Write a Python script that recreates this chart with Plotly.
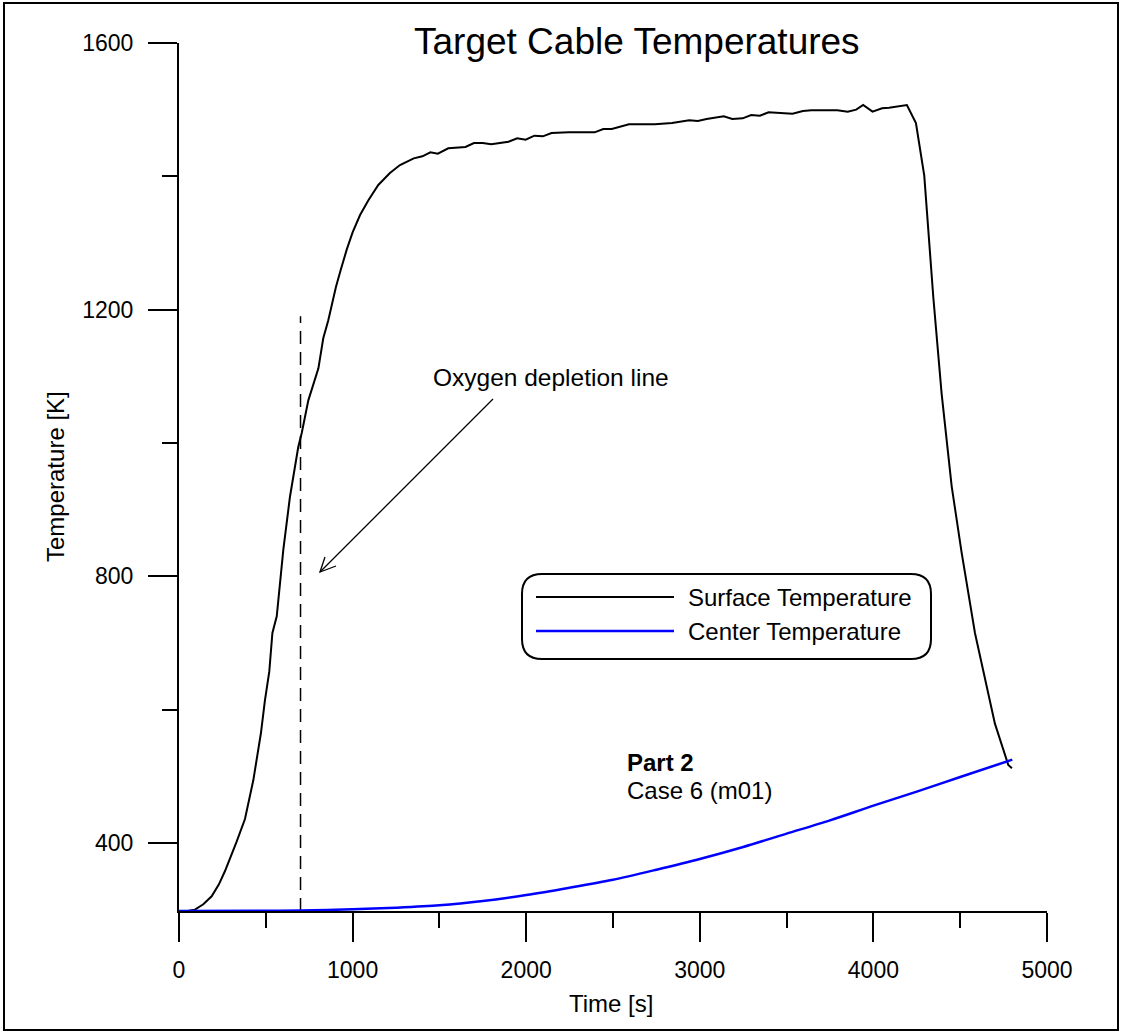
import plotly.graph_objects as go

# ---------------- data ----------------
surface_time = [0, 50, 92, 140, 188, 230, 265, 300, 332, 380, 428, 472, 495, 520, 538, 563,
                601, 639, 687, 707, 726, 745, 803, 831, 860, 904, 931, 966, 1000, 1043, 1091,
                1148, 1215, 1273, 1352, 1402, 1448, 1491, 1551, 1650, 1699, 1749, 1799, 1898,
                1948, 1997, 2047, 2096, 2146, 2245, 2394, 2444, 2493, 2543, 2592, 2741, 2840,
                2939, 2989, 3039, 3138, 3187, 3247, 3296, 3346, 3396, 3534, 3594, 3643, 3792,
                3852, 3901, 3941, 3995, 4050, 4090, 4193, 4245, 4293, 4345, 4393, 4451, 4508,
                4585, 4623, 4700, 4777, 4798]
surface_temp = [298, 298, 300, 308, 320, 338, 358, 380, 402, 436, 494, 565, 614, 657, 715, 740,
                840, 919, 994, 1015, 1040, 1064, 1112, 1157, 1184, 1234, 1259, 1290, 1316, 1342, 1364,
                1387, 1405, 1417, 1427, 1430, 1436, 1434, 1442, 1444, 1450, 1450, 1448, 1452,
                1457, 1455, 1461, 1460, 1465, 1466, 1466, 1471, 1471, 1474, 1478, 1478, 1480,
                1484, 1483, 1486, 1490, 1486, 1487, 1492, 1491, 1496, 1494, 1498, 1499, 1499,
                1497, 1500, 1507, 1497, 1502, 1503, 1507, 1480, 1401, 1219, 1074, 935, 836,
                715, 671, 579, 517, 512]

center_time = [0, 500, 700, 1000, 1250, 1500, 1750, 2000, 2250, 2500, 2750, 3000, 3250, 3500,
               3750, 4000, 4250, 4500, 4800]
center_temp = [298, 298.3, 298.8, 300.5, 303, 306.5, 313, 322, 333, 345, 360, 376, 394, 414,
               434, 456, 477, 499, 525]

o2_time = [700, 700]
o2_temp = [298, 1190]

series_names = ["Surface Temperature", "Center Temperature"]
x_ticks = [0, 1000, 2000, 3000, 4000, 5000]
y_ticks = [400, 800, 1200, 1600]

# ---------------- layout helpers ----------------
W, H = 1122, 1035
L, R, T, B = 179, 1047, 43, 911
PW, PH = R - L, B - T


def px(x):
    return (x - L) / PW


def py(y):
    return (B - y) / PH


FONT = "Arial, Liberation Sans, sans-serif"

fig = go.Figure()
fig.add_trace(go.Scatter(x=o2_time, y=o2_temp, mode="lines",
                         line=dict(color="black", width=1.5, dash="13px,8px"),
                         showlegend=False, hoverinfo="skip"))
fig.add_trace(go.Scatter(x=surface_time, y=surface_temp, mode="lines", name=series_names[0],
                         line=dict(color="black", width=2), showlegend=False))
fig.add_trace(go.Scatter(x=center_time, y=center_temp, mode="lines", name=series_names[1],
                         line=dict(color="#0000FF", width=2.5, shape="spline", smoothing=0.8),
                         showlegend=False))

axis_common = dict(showgrid=False, zeroline=False, showline=True, linecolor="black", linewidth=2,
                   ticks="outside", ticklen=29, tickwidth=2, tickcolor="black",
                   tickfont=dict(family=FONT, size=23, color="black"))

fig.update_xaxes(range=[0, 5000], tickmode="array", tickvals=x_ticks,
                 ticktext=[str(v) for v in x_ticks], ticklabelstandoff=8,
                 minor=dict(dtick=500, tick0=0, ticks="outside", ticklen=15, tickwidth=2,
                            tickcolor="black", showgrid=False),
                 **axis_common)
fig.update_yaxes(range=[298, 1600], tickmode="array", tickvals=y_ticks,
                 ticktext=[str(v) for v in y_ticks], ticklabelstandoff=10,
                 minor=dict(dtick=200, tick0=0, ticks="outside", ticklen=15, tickwidth=2,
                            tickcolor="black", showgrid=False),
                 **axis_common)

shapes = []
# outer frame
shapes.append(dict(type="rect", xref="paper", yref="paper",
                   x0=px(4), x1=px(1118), y0=py(1030), y1=py(3),
                   line=dict(color="black", width=2), layer="above"))

# rounded legend box
bx0, bx1, by0, by1, r = 522, 931, 574, 659, 20


def P(x, y):
    return f"{px(x):.5f},{py(y):.5f}"


path = (f"M {P(bx0 + r, by0)} L {P(bx1 - r, by0)} Q {P(bx1, by0)} {P(bx1, by0 + r)} "
        f"L {P(bx1, by1 - r)} Q {P(bx1, by1)} {P(bx1 - r, by1)} "
        f"L {P(bx0 + r, by1)} Q {P(bx0, by1)} {P(bx0, by1 - r)} "
        f"L {P(bx0, by0 + r)} Q {P(bx0, by0)} {P(bx0 + r, by0)} Z")
shapes.append(dict(type="path", xref="paper", yref="paper", path=path,
                   line=dict(color="black", width=2), fillcolor="white", layer="below"))
shapes.append(dict(type="line", xref="paper", yref="paper", x0=px(536), x1=px(674),
                   y0=py(597), y1=py(597), line=dict(color="black", width=2)))
shapes.append(dict(type="line", xref="paper", yref="paper", x0=px(536), x1=px(674),
                   y0=py(631), y1=py(631), line=dict(color="#0000FF", width=2.5)))

# arrow
shapes.append(dict(type="line", xref="paper", yref="paper", x0=px(493), y0=py(399),
                   x1=px(320), y1=py(572), line=dict(color="black", width=1.3)))
shapes.append(dict(type="path", xref="paper", yref="paper",
                   path=f"M {P(336, 566)} L {P(320, 572)} L {P(325, 557)}",
                   line=dict(color="black", width=1.3)))
fig.update_layout(shapes=shapes)

ann = []
ann.append(dict(text="Target Cable Temperatures", xref="paper", yref="paper",
                x=px(637), y=py(41), xanchor="center", yanchor="middle", showarrow=False,
                font=dict(family=FONT, size=37, color="black")))
ann.append(dict(text="Time [s]", xref="paper", yref="paper", x=px(611), y=py(1003),
                xanchor="center", yanchor="middle", showarrow=False,
                font=dict(family=FONT, size=24, color="black")))
ann.append(dict(text="Temperature [K]", xref="paper", yref="paper", x=px(55), y=py(477),
                xanchor="center", yanchor="middle", showarrow=False, textangle=-90,
                font=dict(family=FONT, size=24, color="black")))
ann.append(dict(text="Oxygen depletion line", xref="paper", yref="paper", x=px(551), y=py(377),
                xanchor="center", yanchor="middle", showarrow=False,
                font=dict(family=FONT, size=24.5, color="black")))
ann.append(dict(text="<b>Part 2</b>", xref="paper", yref="paper", x=px(626), y=py(762),
                xanchor="left", yanchor="middle", showarrow=False, borderpad=0,
                font=dict(family=FONT, size=24, color="black")))
ann.append(dict(text="Case 6 (m01)", xref="paper", yref="paper", x=px(626), y=py(791),
                xanchor="left", yanchor="middle", showarrow=False, borderpad=0,
                font=dict(family=FONT, size=24, color="black")))
for i, yy in enumerate([597, 631]):
    ann.append(dict(text=series_names[i], xref="paper", yref="paper", x=px(686), y=py(yy),
                    xanchor="left", yanchor="middle", showarrow=False,
                    font=dict(family=FONT, size=24, color="black")))

fig.update_layout(annotations=ann, width=W, height=H,
                  margin=dict(l=L, r=W - R, t=T, b=H - B),
                  plot_bgcolor="white", paper_bgcolor="white", showlegend=False,
                  font=dict(family=FONT, size=23, color="black"))

fig.write_html("out.html")
